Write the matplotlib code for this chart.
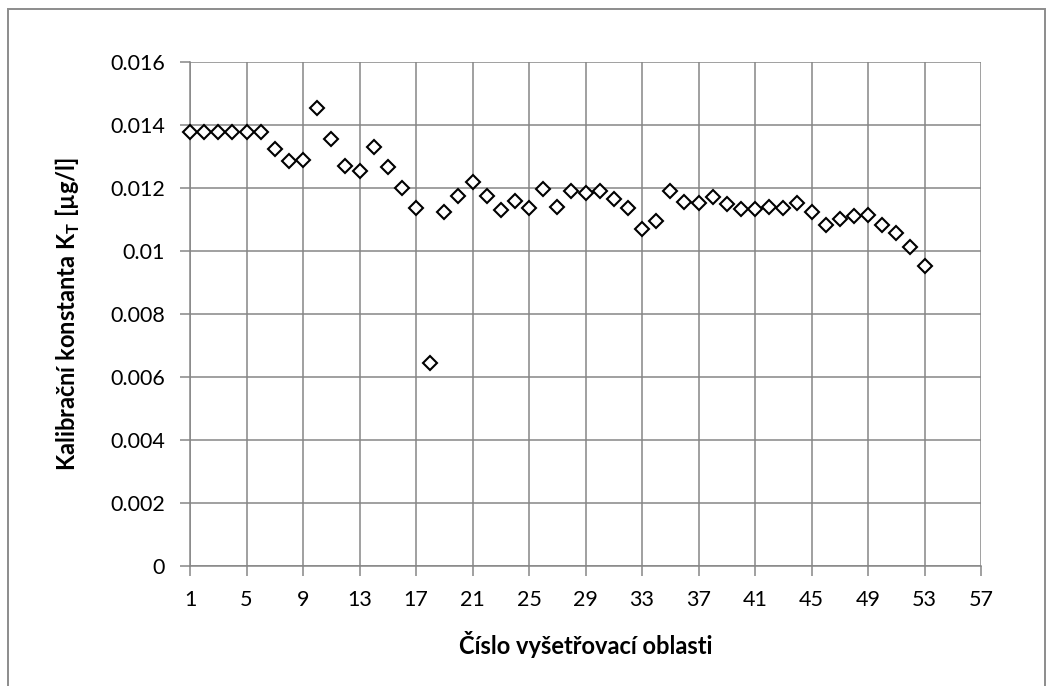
import matplotlib
matplotlib.use("Agg")
import matplotlib.pyplot as plt
from matplotlib.patches import Rectangle

# Survey area numbers and calibration constants K_T [µg/l]
oblast = list(range(1, 54))
kt = [
    0.01375, 0.01375, 0.01375, 0.01375, 0.01375, 0.01375, 0.01321, 0.01284,
    0.01287, 0.01452, 0.01354, 0.01270, 0.01254, 0.01328, 0.01266, 0.01200,
    0.01135, 0.00645, 0.01124, 0.01174, 0.01217, 0.01175, 0.01130, 0.01159,
    0.01134, 0.01195, 0.01139, 0.01188, 0.01184, 0.01188, 0.01165, 0.01134,
    0.01070, 0.01094, 0.01189, 0.01155, 0.01151, 0.01170, 0.01148, 0.01132,
    0.01132, 0.01140, 0.01134, 0.01150, 0.01124, 0.01080, 0.01102, 0.01110,
    0.01112, 0.01083, 0.01055, 0.01011, 0.00950,
]
x_ticks = list(range(1, 58, 4))
y_ticks = [0, 0.002, 0.004, 0.006, 0.008, 0.010, 0.012, 0.014, 0.016]
y_tick_labels = ["0", "0.002", "0.004", "0.006", "0.008", "0.01", "0.012", "0.014", "0.016"]

plt.rcParams["font.family"] = ["Lato", "DejaVu Sans"]

fig = plt.figure(figsize=(10.54, 6.86), dpi=100)
fig.patch.set_facecolor("white")

# outer chart frame
fig.patches.append(Rectangle((8 / 1054, -0.05), (1045 - 8) / 1054, 1 - 9 / 686 + 0.05,
                             transform=fig.transFigure, fill=False,
                             edgecolor="#8c8c8c", linewidth=1.4, zorder=0))

ax = fig.add_axes([190 / 1054, 1 - 566 / 686, (981 - 190) / 1054, (566 - 61.5) / 686])

grid_col = "#868686"
ax.plot(oblast, kt, linestyle="none", marker="D", markersize=6.8,
        markerfacecolor="white", markeredgecolor="black", markeredgewidth=1.5,
        zorder=5, clip_on=False)

ax.set_xlim(1, 57)
ax.set_ylim(0, 0.016)
ax.set_xticks(x_ticks)
ax.set_xticklabels([str(t) for t in x_ticks])
ax.set_yticks(y_ticks)
ax.set_yticklabels(y_tick_labels)

ax.grid(True, color=grid_col, linewidth=1.1)
ax.set_axisbelow(True)
for side in ["top", "right"]:
    ax.spines[side].set_visible(False)
for side in ["left", "bottom"]:
    ax.spines[side].set_color(grid_col)
    ax.spines[side].set_linewidth(1.1)

ax.tick_params(axis="both", direction="out", length=7, width=1.1, color=grid_col,
               labelsize=15.5, labelcolor="black")
ax.tick_params(axis="x", pad=10)
ax.tick_params(axis="y", pad=11)

ax.set_xlabel("Číslo vyšetřovací oblasti", fontsize=17, fontweight="bold")
ax.set_ylabel("Kalibrační konstanta K$_\\mathregular{T}$ [µg/l]", fontsize=17,
              fontweight="bold")
ax.xaxis.set_label_coords(0.5, -0.128)
ax.yaxis.set_label_coords(-0.137, 0.5)

fig.savefig("out.png", dpi=100, facecolor="white")
